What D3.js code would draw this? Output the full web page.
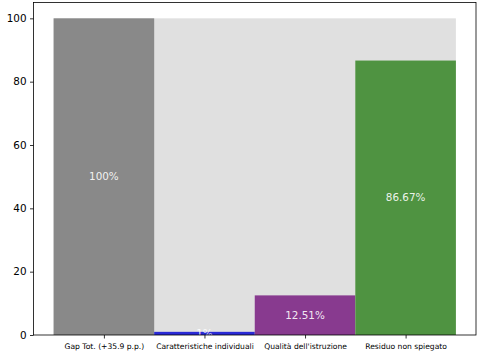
<!DOCTYPE html>
<html>
<head>
<meta charset="utf-8">
<script src="https://cdn.jsdelivr.net/npm/d3@7"></script>
<style>
  body { margin: 0; background: #fff; }
  text { font-family: "DejaVu Sans", sans-serif; }
</style>
</head>
<body>
<svg id="chart" width="480" height="361"></svg>
<script>
// chart data
var categories = ["Gap Tot. (+35.9 p.p.)", "Caratteristiche individuali", "Qualità dell'istruzione", "Residuo non spiegato"];
var values = [100, 1, 12.51, 86.67];
var labels = ["100%", "1%", "12.51%", "86.67%"];
var colors = ["#898989", "#2a2ad6", "#883a8f", "#4f9341"];
var yTicks = [0, 20, 40, 60, 80, 100];

var svg = d3.select("#chart");
// note: "top" is reserved on window, so use plot* names
var plotLeft = 33.5, plotRight = 476, plotTop = 2.5, plotBottom = 335;

var x = d3.scaleLinear().domain([-0.7, 3.7]).range([plotLeft, plotRight]);
var y = d3.scaleLinear().domain([0, 105]).range([plotBottom, plotTop]);

// light background "total" strip, one rect so no seams between bars
svg.append("rect")
    .attr("x", x(-0.5))
    .attr("width", x(values.length - 0.5) - x(-0.5))
    .attr("y", y(100))
    .attr("height", y(0) - y(100))
    .attr("fill", "#e0e0e0");

svg.selectAll("rect.bar")
    .data(values)
  .enter().append("rect")
    .attr("class", "bar")
    .attr("x", function(d, i) { return x(i - 0.5); })
    .attr("width", x(1) - x(0))
    .attr("y", function(d) { return y(d); })
    .attr("height", function(d) { return y(0) - y(d); })
    .attr("fill", function(d, i) { return colors[i]; });

svg.selectAll("text.lbl")
    .data(values)
  .enter().append("text")
    .attr("class", "lbl")
    .attr("x", function(d, i) { return x(i); })
    .attr("y", function(d) { return y(d / 2); })
    .attr("dy", "0.35em")
    .attr("text-anchor", "middle")
    .attr("font-size", "10.4px")
    .attr("fill", "#fff")
    .attr("fill-opacity", 0.9)
    .text(function(d, i) { return labels[i]; });

// axes
var yAxis = d3.axisLeft(y).tickValues(yTicks).tickSize(3.5).tickPadding(3.5);
var gy = svg.append("g").attr("transform", "translate(" + plotLeft + ",0)").call(yAxis);
gy.select(".domain").remove();
gy.selectAll("text").attr("font-size", "10.4px").attr("fill", "#000").attr("font-family", "DejaVu Sans");
gy.selectAll("line").attr("stroke", "#000").attr("stroke-width", 0.8);

var xAxis = d3.axisBottom(x).tickValues([0, 1, 2, 3])
    .tickFormat(function(d) { return categories[d]; })
    .tickSize(3.5).tickPadding(5);
var gx = svg.append("g").attr("transform", "translate(0," + plotBottom + ")").call(xAxis);
gx.select(".domain").remove();
gx.selectAll("text").attr("font-size", "7.6px").attr("fill", "#000").attr("font-family", "DejaVu Sans");
gx.selectAll("line").attr("stroke", "#000").attr("stroke-width", 0.8);

// frame
svg.append("rect")
    .attr("x", plotLeft).attr("y", plotTop)
    .attr("width", plotRight - plotLeft).attr("height", plotBottom - plotTop)
    .attr("fill", "none").attr("stroke", "#000").attr("stroke-width", 0.8);
</script>
</body>
</html>
